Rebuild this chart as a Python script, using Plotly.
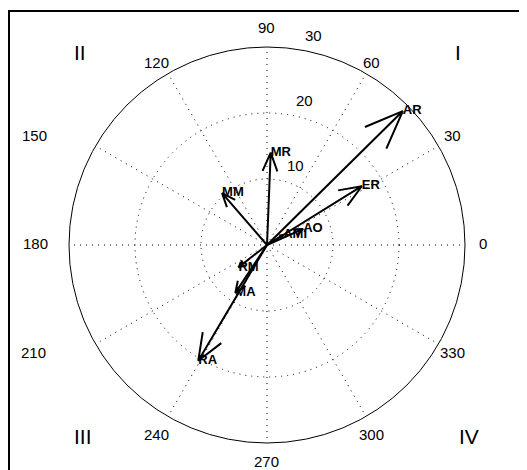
import numpy as np
import plotly.graph_objects as go

# ---- data ----
names = ["AR", "ER", "AO", "AMI", "MR", "MM", "RM", "MA", "RA"]
magnitudes = [28.9, 16.9, 6.0, 2.9, 14.0, 10.4, 5.5, 8.7, 20.4]
angles_deg = [44.6, 31.8, 24.0, 32.0, 87.7, 130.9, 218.0, 236.5, 239.3]
radial_ticks = [10, 20, 30]
angular_ticks = [0, 30, 60, 90, 120, 150, 180, 210, 240, 270, 300, 330]
quadrants = ["I", "II", "III", "IV"]

W, H = 527, 470
OFF = 8  # page body margin offset
cx, cy, R = 267 - OFF, 245 - OFF, 198
RMAX = radial_ticks[-1]
S = R / RMAX  # px per unit

FONT = "Liberation Sans, Arial, sans-serif"

fig = go.Figure()

# compass arrows (MATLAB-style head geometry)
xx = np.array([0, 1, 0.8, 1, 0.8])
yy = np.array([0, 0, 0.08, 0, -0.08])
shape = xx + 1j * yy
for name, m, a in zip(names, magnitudes, angles_deg):
    z = m * np.exp(1j * np.deg2rad(a))
    pts = shape * z
    r = np.abs(pts)
    th = np.rad2deg(np.angle(pts))
    fig.add_trace(go.Scatterpolar(
        r=r, theta=th, mode="lines",
        line=dict(color="black", width=2),
        hoverinfo="skip", showlegend=False))

# arrow labels
fig.add_trace(go.Scatterpolar(
    r=magnitudes, theta=angles_deg, mode="text", text=names,
    textposition="middle right",
    textfont=dict(family=FONT, size=13, color="black", weight="bold"),
    hoverinfo="skip", showlegend=False))

fig.update_layout(
    width=W, height=H,
    margin=dict(l=0, r=0, t=0, b=0),
    paper_bgcolor="white",
    plot_bgcolor="white",
    polar=dict(
        domain=dict(x=[(cx - R) / W, (cx + R) / W],
                    y=[(H - cy - R) / H, (H - cy + R) / H]),
        bgcolor="white",
        radialaxis=dict(range=[0, RMAX], tickvals=radial_ticks, showticklabels=False,
                        ticks="", showline=False, gridcolor="black",
                        griddash="1px,5px", gridwidth=1),
        angularaxis=dict(rotation=0, direction="counterclockwise",
                         tickvals=angular_ticks, showticklabels=False, ticks="",
                         showline=True, linecolor="black", linewidth=1,
                         gridcolor="black", griddash="1px,5px", gridwidth=1),
    ),
)

def paper(px, py):
    return px / W, 1 - py / H

# radial tick labels (MATLAB: just right of the 82 deg ray, bottom aligned)
for t in radial_ticks:
    rr = (t + 0.5) * S
    px = cx + rr * np.cos(np.deg2rad(82)) + 8
    py = cy - rr * np.sin(np.deg2rad(82))
    x, y = paper(px, py)
    fig.add_annotation(x=x, y=y, xref="paper", yref="paper", text=str(t),
                       showarrow=False, xanchor="left", yanchor="bottom",
                       font=dict(family=FONT, size=15, color="black"))

# angular tick labels (placement, page px)
ang_pos = {0: (483, 244), 30: (452, 136), 60: (371, 62), 90: (266, 27),
           120: (156, 62), 150: (34, 136), 180: (35, 244), 210: (33, 352),
           240: (156, 434), 270: (266, 461), 300: (371, 434), 330: (452, 352)}
for t in angular_ticks:
    px, py = ang_pos[t]
    x, y = paper(px - OFF, py - OFF)
    fig.add_annotation(x=x, y=y, xref="paper", yref="paper", text=str(t),
                       showarrow=False, xanchor="center", yanchor="middle",
                       font=dict(family=FONT, size=15, color="black"))

# quadrant labels
qpos = {"I": (458, 53), "II": (80, 53), "III": (83, 436), "IV": (469, 436)}
for q in quadrants:
    px, py = qpos[q]
    x, y = paper(px - OFF, py - OFF)
    fig.add_annotation(x=x, y=y, xref="paper", yref="paper",
                       text=q, showarrow=False, xanchor="center", yanchor="middle",
                       font=dict(family=FONT, size=21, color="black"))

# frame
fig.add_shape(type="rect", xref="paper", yref="paper",
              x0=1 / W, y0=-0.05, x1=1.05, y1=1 - 3 / H,
              line=dict(color="black", width=2))

fig.write_html("out.html")
